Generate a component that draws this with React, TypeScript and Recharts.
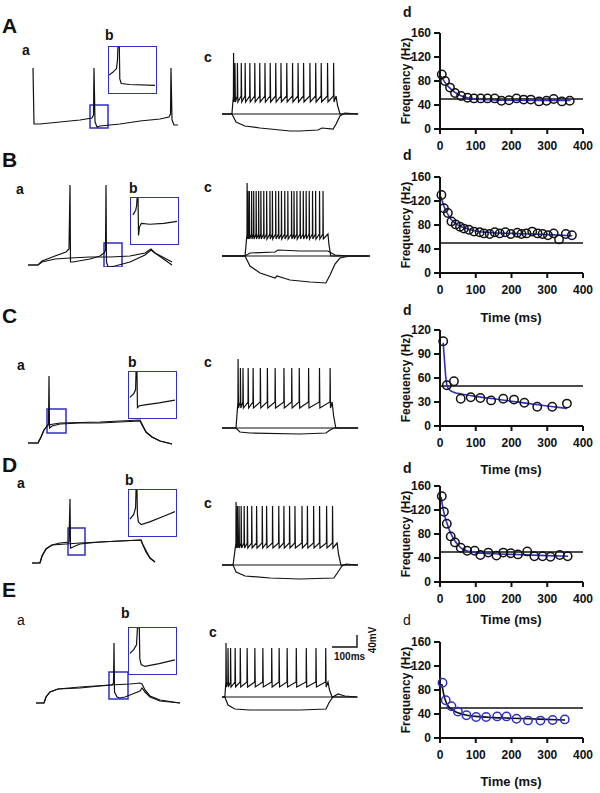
import React from 'react';
import {
  ComposedChart,
  LineChart,
  Line,
  Scatter,
  XAxis,
  YAxis,
  ReferenceLine,
  ReferenceArea
} from 'recharts';

const FONT = 'Arial, "Liberation Sans", Helvetica, sans-serif';
const BLUE = '#2f2fc4';
const INK = '#111111';

// ---- d panels: instantaneous frequency (Hz) vs time (ms) ----
const timeA = [5, 14, 28, 42, 59, 77, 95, 114, 133, 153, 172, 193, 214, 234, 254, 277, 298, 318, 341, 363];
const freqA = [91, 80, 69, 60, 55, 52, 51, 51, 51, 51, 47, 48, 51, 49, 49, 46, 47, 50, 46, 47];
const fitTimeA = [3, 10, 20, 30, 40, 60, 80, 100, 150, 200, 300, 365];
const fitFreqA = [88, 81, 73, 67, 62, 55, 51.5, 50, 48.5, 48, 47.5, 47.5];

const timeB = [4, 11, 22, 32, 44, 56, 67, 81, 95, 111, 123, 139, 153, 167, 183, 198, 216, 228, 242, 258, 273, 287, 302, 318, 333, 352, 369];
const freqB = [130, 108, 100, 86, 81, 77, 74, 72, 69, 68, 66, 65, 68, 66, 68, 65, 67, 65, 66, 69, 66, 65, 63, 66, 56, 65, 63];
const fitTimeB = [3, 10, 20, 30, 40, 60, 80, 100, 150, 200, 250, 300, 370];
const fitFreqB = [127, 113, 100, 90, 84, 77, 73, 70, 67, 66, 65, 64, 62];

const timeC = [9, 19, 39, 58, 86, 113, 143, 177, 207, 236, 272, 314, 355];
const freqC = [106, 51, 56, 34, 36, 35, 32, 34, 33, 29, 24, 24, 28];
const fitTimeC = [9, 12, 16, 20, 25, 40, 60, 100, 150, 200, 250, 300, 355];
const fitFreqC = [104, 85, 62, 50, 46, 42, 40, 37, 34, 31, 28, 25, 22];

const timeD = [5, 11, 19, 30, 42, 58, 76, 97, 113, 135, 158, 177, 198, 218, 244, 264, 287, 309, 335, 357];
const freqD = [143, 117, 97, 76, 66, 57, 52, 52, 45, 49, 44, 49, 48, 46, 51, 43, 43, 42, 45, 43];
const fitTimeD = [3, 10, 20, 30, 40, 50, 60, 80, 100, 150, 200, 300, 358];
const fitFreqD = [142, 118, 97, 81, 70, 62, 56, 51, 49, 47, 46, 44, 43];

const timeE = [7, 16, 32, 50, 74, 101, 129, 160, 186, 214, 246, 281, 315, 349];
const freqE = [92, 63, 53, 44, 38, 35, 35, 36, 36, 32, 29, 29, 30, 31];
const fitTimeE = [5, 10, 15, 20, 30, 40, 50, 75, 100, 150, 200, 250, 300, 350];
const fitFreqE = [90, 74, 63, 56, 49, 45, 42, 38, 36, 34, 33, 32, 31, 30];

const ticks160 = [0, 40, 80, 120, 160];
const ticks120 = [0, 30, 60, 90, 120];
const timeTicks = [0, 100, 200, 300, 400];

// ---- a panels: membrane potential (ms, mV) ----
const traceA1 = [[20, 34], [24, -78], [48, -78], [128, -74], [208, -70], [256, -66], [262, -60], [264, 34], [268, -74], [276, -84], [288, -82], [368, -78], [448, -72], [528, -68], [564, -64], [570, -58], [572, 34], [576, -70], [584, -80], [600, -80]];
const traceB1 = [[0, -126], [40, -126], [56, -118], [108, -108], [152, -100], [164, -94], [168, 34], [170, -120], [180, -120], [248, -114], [288, -108], [304, -102], [310, -96], [312, 34], [314, -120], [320, -130], [348, -128], [408, -120], [468, -106], [492, -96], [508, -102], [576, -126]];
const traceB2 = [[0, -126], [40, -126], [56, -120], [108, -114], [168, -112], [248, -110], [328, -110], [408, -108], [468, -102], [492, -94], [508, -102], [576, -120]];
const traceC1 = [[0, -100], [40, -100], [52, -88], [64, -74], [76, -66], [82, -62], [84, 34], [86, -70], [96, -66], [128, -62], [208, -60], [288, -60], [368, -58], [448, -56], [456, -64], [472, -78], [496, -88], [528, -96], [576, -102]];
const traceC2 = [[0, -100], [40, -100], [52, -88], [64, -74], [80, -64], [128, -60], [288, -58], [448, -54], [456, -62], [472, -78], [496, -88], [528, -96], [576, -102]];
const traceD1 = [[16, -94], [48, -94], [56, -80], [72, -66], [96, -58], [128, -54], [164, -52], [168, 34], [170, -64], [180, -62], [208, -56], [288, -52], [368, -50], [452, -48], [460, -58], [472, -72], [488, -84], [508, -92]];
const traceD2 = [[16, -94], [48, -94], [56, -80], [72, -66], [96, -58], [208, -54], [368, -50], [452, -48], [460, -58], [488, -84], [508, -92]];
const traceE1 = [[32, -86], [64, -86], [72, -74], [88, -64], [120, -58], [208, -56], [288, -52], [336, -50], [342, -46], [344, 34], [346, -64], [356, -74], [368, -76], [388, -74], [428, -66], [448, -62], [456, -56], [468, -64], [488, -74], [528, -82], [608, -86]];
const traceE2 = [[32, -86], [64, -86], [72, -74], [88, -64], [120, -58], [208, -54], [328, -50], [408, -48], [448, -46], [456, -48], [468, -60], [488, -72], [528, -80], [608, -86]];

// zoom windows [t1, t2, v1, v2]
const zoomA = [248, 320, -86, -40];
const zoomB = [304, 376, -130, -82];
const zoomC = [76, 152, -80, -32];
const zoomD = [160, 228, -78, -24];
const zoomE = [324, 400, -78, -24];

// ---- b insets (ms, mV relative to window) ----
const insetA = [[0, -30], [4, -27], [8, -23], [9, -14], [9.5, 0], [11, 0], [11.5, -34], [13, -39], [22, -40], [49, -41]];
const insetB = [[2, -18], [5, -13], [6, -8], [6.5, 0], [7.5, 0], [8, -40], [9, -31], [11, -27], [20, -28], [35, -27], [49, -25]];
const insetC = [[1, -27], [5, -23], [7, -19], [7.5, 0], [8.5, 0], [9, -38], [11, -36], [17, -35], [32, -33], [49, -30]];
const insetD = [[1, -31], [5, -26], [7, -19], [7.5, 0], [8.5, 0], [9, -26], [10, -34], [13, -37], [22, -34], [37, -28], [49, -23]];
const insetE = [[1, -27], [5, -23], [8, -18], [9, 0], [11, 0], [11.5, -33], [13, -39], [17, -41], [32, -38], [49, -34]];

// ---- c panels: current steps ----
// [step on, first spike, step off, end] in ms ; [first peak, peak, trough, threshold] in mV
const stepA = [36, 42, 414, 494];
const levelA = [42, 22, -56, -44];
const stepB = [112, 122, 515, 719];
const levelB = [66, 50, -46, -36];
const stepC = [54, 62, 425, 525];
const levelC = [58, 40, -40, -28];
const stepD = [41, 52, 426, 503];
const levelD = [46, 38, -46, -36];
const stepE = [10, 14, 371, 472];
const levelE = [28, 18, -60, -50];

const hyperA = [[0, -80], [36, -80], [51, -96], [83, -104], [138, -108], [247, -114], [283, -114], [348, -112], [363, -108], [403, -110], [414, -100], [428, -84], [446, -78], [494, -80]];
const hyperB = [[0, -80], [112, -80], [136, -100], [185, -114], [258, -124], [267, -120], [330, -128], [428, -132], [505, -134], [525, -118], [549, -96], [573, -84], [622, -80], [719, -80]];
const subB = [[0, -80], [112, -80], [136, -74], [258, -72], [272, -68], [379, -70], [515, -70], [549, -78], [622, -80], [719, -80]];
const hyperC = [[0, -80], [54, -80], [69, -88], [108, -90], [301, -92], [401, -90], [417, -84], [432, -80], [525, -80]];
const hyperD = [[0, -80], [41, -80], [52, -94], [85, -102], [178, -106], [289, -108], [414, -106], [429, -94], [444, -82], [459, -78], [503, -80]];
const hyperE = [[0, -80], [10, -80], [21, -96], [45, -104], [98, -106], [273, -106], [364, -104], [374, -92], [388, -80], [406, -74], [430, -78], [472, -80]];

const REST = -80;

const pairs = (t: number[], f: number[]) => t.map((x, i) => ({ t: x, f: f[i] }));
const toPts = (arr: number[][]) => arr.map(([t, v]) => ({ t, v }));

function spikeTrain(step: number[], level: number[], intervals: number[]) {
  const [on, first, off, end] = step;
  const [peak1, peak, trough, thresh] = level;
  const times = [first, ...intervals.map((x) => first + x)];
  const pts = [{ t: 0, v: REST }, { t: on, v: REST }];
  times.forEach((s, i) => {
    pts.push({ t: s - 0.6, v: thresh });
    pts.push({ t: s, v: i === 0 ? peak1 : peak });
    pts.push({ t: s + 1.5, v: trough });
  });
  pts.push({ t: off, v: thresh });
  pts.push({ t: off + 5, v: (thresh + REST) / 2 });
  pts.push({ t: off + 14, v: REST });
  pts.push({ t: end, v: REST });
  return pts;
}

const tickStyle = { fontSize: 12, fontWeight: 700, fill: INK, fontFamily: FONT };

function FreqPanel({ top, time, freq, fitTime, fitFreq, yMax, yTicks, dot, fit }: any) {
  const pts = pairs(time, freq);
  const curve = pairs(fitTime, fitFreq);
  return (
    <div style={{ position: 'absolute', left: 405, top: top - 8 }}>
      <ComposedChart width={195} height={136} margin={{ top: 8, right: 17, bottom: 0, left: 0 }}>
        <XAxis
          dataKey="t"
          type="number"
          domain={[0, 400]}
          ticks={timeTicks}
          height={32}
          axisLine={{ stroke: INK, strokeWidth: 2 }}
          tickLine={{ stroke: INK, strokeWidth: 2 }}
          tickSize={5}
          tickMargin={7}
          tick={tickStyle}
        />
        <YAxis
          type="number"
          domain={[0, yMax]}
          ticks={yTicks}
          width={35}
          axisLine={{ stroke: INK, strokeWidth: 2 }}
          tickLine={{ stroke: INK, strokeWidth: 2 }}
          tickSize={6}
          tickMargin={3}
          tick={tickStyle}
        />
        <ReferenceLine y={50} stroke={INK} strokeWidth={1.3} />
        <Scatter
          data={pts}
          dataKey="f"
          isAnimationActive={false}
          shape={(p: any) => <circle cx={p.cx} cy={p.cy} r={4.2} fill="none" stroke={dot} strokeWidth={1.5} />}
        />
        <Line data={curve} dataKey="f" type="monotone" stroke={fit} strokeWidth={1.6} dot={false} isAnimationActive={false} />
      </ComposedChart>
    </div>
  );
}

function Trace({ left, top, width, height, xMax, yMin, yMax, lines, box }: any) {
  return (
    <div style={{ position: 'absolute', left, top }}>
      <LineChart width={width} height={height} margin={{ top: 0, right: 0, bottom: 0, left: 0 }}>
        <XAxis type="number" dataKey="t" domain={[0, xMax]} hide allowDataOverflow />
        <YAxis type="number" domain={[yMin, yMax]} hide allowDataOverflow />
        {lines.map((d: any, i: number) => (
          <Line key={i} data={d} dataKey="v" type="linear" stroke={INK} strokeWidth={1.2} dot={false} isAnimationActive={false} />
        ))}
        {box && (
          <ReferenceArea
            x1={box[0]}
            x2={box[1]}
            y1={box[2]}
            y2={box[3]}
            fill="none"
            stroke={BLUE}
            strokeWidth={1.5}
            ifOverflow="visible"
          />
        )}
      </LineChart>
    </div>
  );
}

function Inset({ left, top, data }: any) {
  return (
    <div style={{ position: 'absolute', left, top, width: 49, height: 48, border: `1.5px solid ${BLUE}`, boxSizing: 'border-box' }}>
      <LineChart width={46} height={45} margin={{ top: 0, right: 0, bottom: 0, left: 0 }}>
        <XAxis type="number" dataKey="t" domain={[0, 49]} hide />
        <YAxis type="number" domain={[-48, 0]} hide />
        <Line data={toPts(data)} dataKey="v" type="linear" stroke={INK} strokeWidth={1.2} dot={false} isAnimationActive={false} />
      </LineChart>
    </div>
  );
}

const rows = [
  {
    letter: 'A', letterY: 33, top: 60, aTraces: [traceA1], zoom: zoomA, inset: insetA, insetPos: [108, 46],
    cTop: 39, cWidth: 140, cMax: 508, step: stepA, level: levelA, hyper: hyperA, extra: [] as number[][][],
    time: timeA, freq: freqA, fitTime: fitTimeA, fitFreq: fitFreqA, dTop: 33, yMax: 160, yTicks: ticks160,
    dot: INK, fit: BLUE, labels: [[22, 55, 'a'], [105, 40, 'b'], [204, 62, 'c'], [403, 17, 'd']], timeY: 0, yLabel: 'Frequency (Hz)', thin: false
  },
  {
    letter: 'B', letterY: 167, top: 177, aTraces: [traceB1, traceB2], zoom: zoomB, inset: insetB, insetPos: [130, 197],
    cTop: 181, cWidth: 150, cMax: 729, step: stepB, level: levelB, hyper: hyperB, extra: [subB],
    time: timeB, freq: freqB, fitTime: fitTimeB, fitFreq: fitFreqB, dTop: 177, yMax: 160, yTicks: ticks160,
    dot: INK, fit: BLUE, labels: [[16, 194, 'a'], [129, 193, 'b'], [204, 192, 'c'], [403, 160, 'd']], timeY: 322, yLabel: 'Frequency (Hz)', thin: false
  },
  {
    letter: 'C', letterY: 323, top: 368, aTraces: [traceC1, traceC2], zoom: zoomC, inset: insetC, insetPos: [128, 371],
    cTop: 353, cWidth: 140, cMax: 540, step: stepC, level: levelC, hyper: hyperC, extra: [],
    time: timeC, freq: freqC, fitTime: fitTimeC, fitFreq: fitFreqC, dTop: 330, yMax: 120, yTicks: ticks120,
    dot: INK, fit: BLUE, labels: [[17, 370, 'a'], [128, 367, 'b'], [204, 367, 'c'], [403, 315, 'd']], timeY: 474, yLabel: 'Feqeuency (Hz)', thin: false
  },
  {
    letter: 'D', letterY: 472, top: 491, aTraces: [traceD1, traceD2], zoom: zoomD, inset: insetD, insetPos: [128, 489],
    cTop: 490, cWidth: 140, cMax: 518, step: stepD, level: levelD, hyper: hyperD, extra: [],
    time: timeD, freq: freqD, fitTime: fitTimeD, fitFreq: fitFreqD, dTop: 486, yMax: 160, yTicks: ticks160,
    dot: INK, fit: BLUE, labels: [[17, 488, 'a'], [125, 485, 'b'], [204, 508, 'c'], [403, 473, 'd']], timeY: 624, yLabel: 'Frequency (Hz)', thin: false
  },
  {
    letter: 'E', letterY: 597, top: 635, aTraces: [traceE1, traceE2], zoom: zoomE, inset: insetE, insetPos: [128, 627],
    cTop: 622, cWidth: 140, cMax: 490, step: stepE, level: levelE, hyper: hyperE, extra: [],
    time: timeE, freq: freqE, fitTime: fitTimeE, fitFreq: fitFreqE, dTop: 642, yMax: 160, yTicks: ticks160,
    dot: BLUE, fit: INK, labels: [[17, 625, 'a'], [121, 618, 'b'], [209, 637, 'c'], [403, 625, 'd']], timeY: 786, yLabel: 'Frequency (Hz)', thin: true
  }
];

export default function App() {
  return (
    <div style={{ position: 'absolute', left: 0, top: 0, width: 600, height: 793, background: '#fff', fontFamily: FONT }}>
      {rows.map((r) => {
        const cLines = [
          toPts([[0, REST], [r.cMax * 0.97, REST]]),
          spikeTrain(r.step, r.level, r.time),
          toPts(r.hyper),
          ...r.extra.map(toPts)
        ];
        return (
          <React.Fragment key={r.letter}>
            <Trace left={28} top={r.top} width={155} height={90} xMax={620} yMin={-130} yMax={50}
              lines={r.aTraces.map(toPts)} box={r.zoom} />
            <Inset left={r.insetPos[0]} top={r.insetPos[1]} data={r.inset} />
            <Trace left={222} top={r.cTop} width={r.cWidth} height={110} xMax={r.cMax} yMin={-150} yMax={70}
              lines={cLines} />
            <FreqPanel top={r.dTop} time={r.time} freq={r.freq} fitTime={r.fitTime} fitFreq={r.fitFreq}
              yMax={r.yMax} yTicks={r.yTicks} dot={r.dot} fit={r.fit} />
          </React.Fragment>
        );
      })}
      <svg width={600} height={793} style={{ position: 'absolute', left: 0, top: 0, pointerEvents: 'none' }}>
        {rows.map((r) => (
          <g key={r.letter} fontFamily={FONT} fill={INK}>
            <text x={2} y={r.letterY} fontSize={21} fontWeight={700}>{r.letter}</text>
            {r.labels.map(([x, y, s], i) => (
              <text key={i} x={x as number} y={y as number} fontSize={14}
                fontWeight={r.thin && (s === 'a' || s === 'd') ? 400 : 700}>{s}</text>
            ))}
            <text transform={`translate(410, ${r.dTop + 48}) rotate(-90)`} textAnchor="middle" fontSize={12} fontWeight={700}>
              {r.yLabel}
            </text>
            {r.timeY > 0 && (
              <text x={511} y={r.timeY} textAnchor="middle" fontSize={13} fontWeight={700}>Time (ms)</text>
            )}
          </g>
        ))}
        <polyline points="332,647 357,647 357,635" fill="none" stroke={INK} strokeWidth={1.4} />
        <text x={334} y={660} fontSize={10} fontWeight={700} fontFamily={FONT} fill={INK}>100ms</text>
        <text transform="translate(376, 640) rotate(-90)" textAnchor="middle" fontSize={10} fontWeight={700} fontFamily={FONT} fill={INK}>40mV</text>
      </svg>
    </div>
  );
}
